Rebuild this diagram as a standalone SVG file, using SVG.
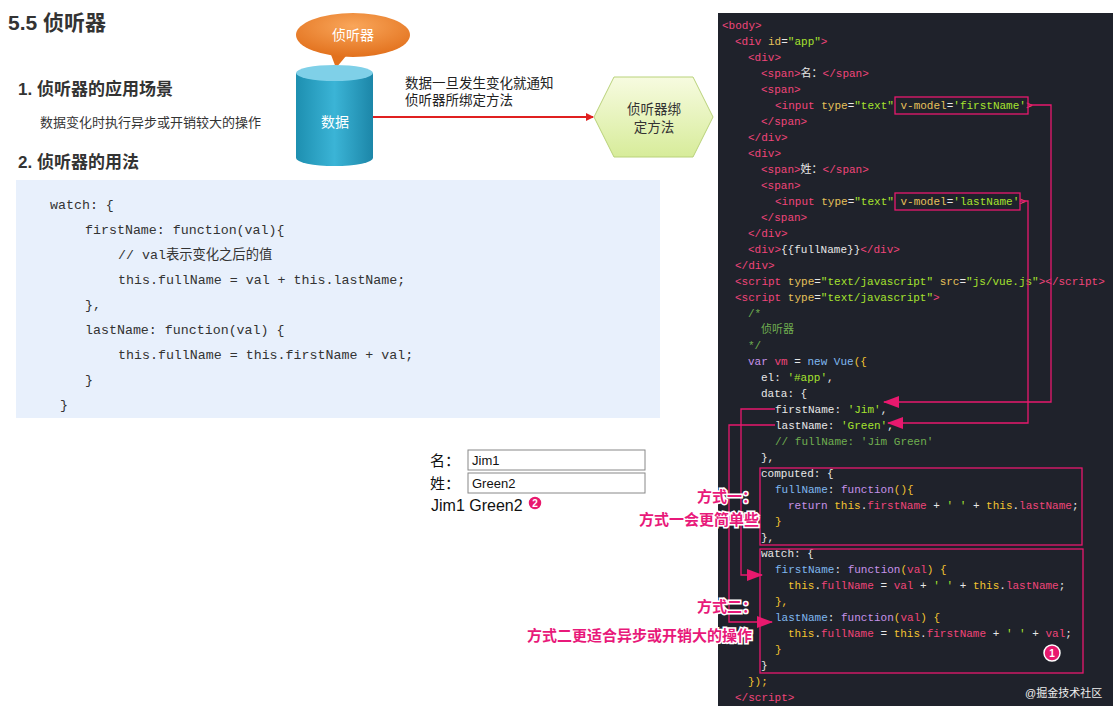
<svg xmlns="http://www.w3.org/2000/svg" width="1119" height="713" viewBox="0 0 1119 713">
<defs>
<style>
.cn{font-family:"Liberation Sans","Noto Sans CJK SC",sans-serif}
.h{font-weight:bold;fill:#333}
.mono{font-family:"Liberation Mono","Noto Sans CJK SC",monospace}
.code{font-size:11px;fill:#e8e8e8}
.t{fill:#f0457a}.a{fill:#e6c15a}.s{fill:#a6e22e}.k{fill:#c792ea}.f{fill:#7fb8f0}.c{fill:#6fae50}.y{fill:#f4c430}
.lbl{font-family:"Liberation Sans","Noto Sans CJK SC",sans-serif;font-size:15px;font-weight:bold;fill:#e8197a;stroke:#fff;stroke-width:3;paint-order:stroke}
.pk{stroke:#e8196e;stroke-width:1.3;fill:none}
</style>
<linearGradient id="cyl" x1="0" x2="1"><stop offset="0" stop-color="#1d8fb0"/><stop offset="0.5" stop-color="#3bb4d6"/><stop offset="1" stop-color="#1c86a8"/></linearGradient>
<linearGradient id="hex" x1="0" y1="0" x2="0" y2="1"><stop offset="0" stop-color="#f7fbe0"/><stop offset="1" stop-color="#d7ec9a"/></linearGradient>
<radialGradient id="org" cx="0.5" cy="0.3" r="0.7"><stop offset="0" stop-color="#f9a65a"/><stop offset="1" stop-color="#e2711d"/></radialGradient>
<marker id="ar" markerWidth="8" markerHeight="8" refX="7" refY="4" orient="auto" markerUnits="userSpaceOnUse"><path d="M0,0 L8,4 L0,8 z" fill="#e02020"/></marker>
<marker id="pa" markerWidth="16" markerHeight="12" refX="15" refY="6" orient="auto" markerUnits="userSpaceOnUse"><path d="M0,0 L16,6 L0,12 z" fill="#e8196e"/></marker>
</defs>
<rect width="1119" height="713" fill="#fff"/>

<text x="8" y="30" class="cn h" font-size="21">5.5 侦听器</text>
<text x="18" y="95" class="cn h" font-size="17">1. 侦听器的应用场景</text>
<text x="40" y="127" class="cn" font-size="13" fill="#333">数据变化时执行异步或开销较大的操作</text>
<text x="18" y="168" class="cn h" font-size="17">2. 侦听器的用法</text>

<g id="codebox">
<rect x="16" y="180" width="644" height="238" fill="#e8f0fc"/>
<g class="mono" font-size="13.3" fill="#333">
<text x="50" y="209">watch: {</text>
<text x="85" y="234">firstName: function(val){</text>
<text x="118" y="259">// val表示变化之后的值</text>
<text x="118" y="284">this.fullName = val + this.lastName;</text>
<text x="85" y="309">},</text>
<text x="85" y="334">lastName: function(val) {</text>
<text x="118" y="359">this.fullName = this.firstName + val;</text>
<text x="85" y="384">}</text>
<text x="60" y="409">}</text>
</g>
</g>

<g id="bubble">
<path d="M330,52 L336,68 L346,56 z" fill="#e2711d"/>
<ellipse cx="353" cy="35" rx="57" ry="22" fill="url(#org)"/>
<text x="353" y="40" class="cn" font-size="14" fill="#fff" text-anchor="middle">侦听器</text>
</g>
<g id="data">
<path d="M296,73 L296,158 A38.5,8 0 0 0 373,158 L373,73 z" fill="url(#cyl)"/>
<ellipse cx="334.5" cy="73" rx="38.5" ry="8" fill="#7fd0e8"/>
<text x="335" y="127" class="cn" font-size="14" fill="#fff" text-anchor="middle">数据</text>
</g>
<g id="method">
<polygon points="594,117 614,77 693,77 713,117 693,157 614,157" fill="url(#hex)" stroke="#b9d27a"/>
<text x="654" y="114" class="cn" font-size="13.5" fill="#333" text-anchor="middle">侦听器绑</text>
<text x="654" y="132" class="cn" font-size="13.5" fill="#333" text-anchor="middle">定方法</text>
</g>
<g id="connectors">
<line x1="373" y1="117" x2="593" y2="117" stroke="#e02020" stroke-width="2" marker-end="url(#ar)"/>
<text x="405" y="88" class="cn" font-size="13.5" fill="#222">数据一旦发生变化就通知</text>
<text x="405" y="105" class="cn" font-size="13.5" fill="#222">侦听器所绑定方法</text>
</g>

<g id="form" class="cn" font-size="15" fill="#111">
<text x="430" y="466">名：</text>
<rect x="468" y="450" width="177" height="20" fill="#fff" stroke="#888"/>
<text x="472" y="465" font-size="13">Jim1</text>
<text x="430" y="489">姓：</text>
<rect x="468" y="473" width="177" height="20" fill="#fff" stroke="#888"/>
<text x="472" y="488" font-size="13">Green2</text>
<text x="431" y="511" font-size="16">Jim1 Green2</text>
<circle cx="535" cy="503" r="7" fill="#e8196e" stroke="#fff" stroke-width="1.5"/>
<text x="535" y="507" font-size="10" fill="#fff" text-anchor="middle" font-weight="bold">2</text>
</g>

<g id="editor">
<rect x="718" y="13" width="395" height="693" fill="#1f222b"/>
<g class="mono code">
<text x="722" y="29"><tspan class="t">&lt;body&gt;</tspan></text>
<text x="735" y="45"><tspan class="t">&lt;div</tspan> <tspan class="a">id</tspan>=<tspan class="s">"app"</tspan><tspan class="t">&gt;</tspan></text>
<text x="748" y="61"><tspan class="t">&lt;div&gt;</tspan></text>
<text x="761" y="77"><tspan class="t">&lt;span&gt;</tspan>名：<tspan class="t">&lt;/span&gt;</tspan></text>
<text x="761" y="93"><tspan class="t">&lt;span&gt;</tspan></text>
<text x="775" y="109"><tspan class="t">&lt;input</tspan> <tspan class="a">type</tspan>=<tspan class="s">"text"</tspan> <tspan class="a">v-model</tspan>=<tspan class="s">'firstName'</tspan><tspan class="t">&gt;</tspan></text>
<text x="761" y="125"><tspan class="t">&lt;/span&gt;</tspan></text>
<text x="748" y="141"><tspan class="t">&lt;/div&gt;</tspan></text>
<text x="748" y="157"><tspan class="t">&lt;div&gt;</tspan></text>
<text x="761" y="173"><tspan class="t">&lt;span&gt;</tspan>姓：<tspan class="t">&lt;/span&gt;</tspan></text>
<text x="761" y="189"><tspan class="t">&lt;span&gt;</tspan></text>
<text x="775" y="205"><tspan class="t">&lt;input</tspan> <tspan class="a">type</tspan>=<tspan class="s">"text"</tspan> <tspan class="a">v-model</tspan>=<tspan class="s">'lastName'</tspan><tspan class="t">&gt;</tspan></text>
<text x="761" y="221"><tspan class="t">&lt;/span&gt;</tspan></text>
<text x="748" y="237"><tspan class="t">&lt;/div&gt;</tspan></text>
<text x="748" y="253"><tspan class="t">&lt;div&gt;</tspan>{{fullName}}<tspan class="t">&lt;/div&gt;</tspan></text>
<text x="735" y="269"><tspan class="t">&lt;/div&gt;</tspan></text>
<text x="735" y="285"><tspan class="t">&lt;script</tspan> <tspan class="a">type</tspan>=<tspan class="s">"text/javascript"</tspan> <tspan class="a">src</tspan>=<tspan class="s">"js/vue.js"</tspan><tspan class="t">&gt;&lt;/script&gt;</tspan></text>
<text x="735" y="301"><tspan class="t">&lt;script</tspan> <tspan class="a">type</tspan>=<tspan class="s">"text/javascript"</tspan><tspan class="t">&gt;</tspan></text>
<text x="748" y="317" class="c">/*</text>
<text x="761" y="333" class="c">侦听器</text>
<text x="748" y="349" class="c">*/</text>
<text x="748" y="365"><tspan class="k">var</tspan> <tspan class="t">vm</tspan> = <tspan class="f">new Vue</tspan><tspan class="y">({</tspan></text>
<text x="761" y="381">el: <tspan class="s">'#app'</tspan>,</text>
<text x="761" y="397">data: {</text>
<text x="775" y="413">firstName: <tspan class="s">'Jim'</tspan>,</text>
<text x="775" y="429">lastName: <tspan class="s">'Green'</tspan>,</text>
<text x="775" y="445" class="c">// fullName: 'Jim Green'</text>
<text x="761" y="461">},</text>
<text x="761" y="477">computed: {</text>
<text x="775" y="493"><tspan class="f">fullName</tspan>: <tspan class="k">function</tspan><tspan class="y">(){</tspan></text>
<text x="788" y="509"><tspan class="k">return</tspan> <tspan class="y">this</tspan>.<tspan class="t">firstName</tspan> + <tspan class="s">' '</tspan> + <tspan class="y">this</tspan>.<tspan class="t">lastName</tspan>;</text>
<text x="775" y="525" class="y">}</text>
<text x="761" y="541">},</text>
<text x="761" y="557">watch: {</text>
<text x="775" y="573"><tspan class="f">firstName</tspan>: <tspan class="k">function</tspan><tspan class="y">(</tspan><tspan class="t">val</tspan><tspan class="y">) {</tspan></text>
<text x="788" y="589"><tspan class="y">this</tspan>.<tspan class="t">fullName</tspan> = <tspan class="t">val</tspan> + <tspan class="s">' '</tspan> + <tspan class="y">this</tspan>.<tspan class="t">lastName</tspan>;</text>
<text x="775" y="605" class="y">},</text>
<text x="775" y="621"><tspan class="f">lastName</tspan>: <tspan class="k">function</tspan><tspan class="y">(</tspan><tspan class="t">val</tspan><tspan class="y">) {</tspan></text>
<text x="788" y="637"><tspan class="y">this</tspan>.<tspan class="t">fullName</tspan> = <tspan class="y">this</tspan>.<tspan class="t">firstName</tspan> + <tspan class="s">' '</tspan> + <tspan class="t">val</tspan>;</text>
<text x="775" y="653" class="y">}</text>
<text x="761" y="669">}</text>
<text x="748" y="685" class="y">});</text>
<text x="735" y="701"><tspan class="t">&lt;/script&gt;</tspan></text>
</g>
<text x="1025" y="697" class="cn" font-size="11" fill="#eee">@掘金技术社区</text>
<circle cx="1052" cy="653" r="8" fill="#e8196e" stroke="#fff" stroke-width="1.5"/>
<text x="1052" y="657" class="cn" font-size="10" font-weight="bold" fill="#fff" text-anchor="middle">1</text>
</g>

<g id="annotations">
<rect x="895" y="97" width="133" height="17" class="pk"/>
<rect x="895" y="193" width="125" height="17" class="pk"/>
<rect x="760" y="468" width="322" height="77" class="pk"/>
<rect x="760" y="549" width="323" height="124" class="pk"/>
<path d="M1028,105 H1051 V402 H884" class="pk" marker-end="url(#pa)"/>
<path d="M1020,201 H1028 V423 H888" class="pk" marker-end="url(#pa)"/>
<path d="M775,409 H741 V575 H762" class="pk" marker-end="url(#pa)"/>
<path d="M775,425 H729 V622 H772" class="pk" marker-end="url(#pa)"/>
<text x="697" y="502" class="lbl">方式一：</text>
<text x="639" y="525" class="lbl">方式一会更简单些</text>
<text x="697" y="612" class="lbl">方式二：</text>
<text x="527" y="641" class="lbl">方式二更适合异步或开销大的操作</text>
</g>
</svg>
